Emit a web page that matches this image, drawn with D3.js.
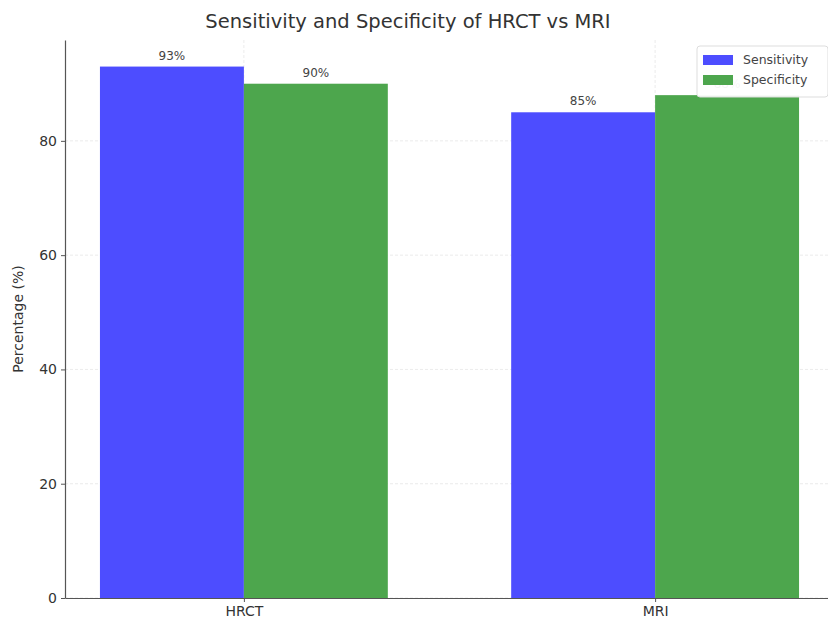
<!DOCTYPE html>
<html>
<head>
<meta charset="utf-8">
<script src="https://cdn.jsdelivr.net/npm/d3@7"></script>
<style>
  body { margin: 0; background: #fff; overflow: hidden; }
  svg { font-family: "DejaVu Sans", sans-serif; display: block; }
</style>
</head>
<body>
<div id="chart"></div>
<script>
const modalities = ["HRCT", "MRI"];
const sensitivity = [93, 85];
const specificity = [90, 88];
const yTicks = [0, 20, 40, 60, 80];

const width = 828;
const height = 623;
const margin = { top: 40, right: -6, bottom: 25, left: 65 };
const plotW = width - margin.left - margin.right;
const plotH = height - margin.top - margin.bottom;
const barW = 0.35;

const svg = d3
  .select("#chart")
  .append("svg")
  .attr("width", width)
  .attr("height", height);

const g = svg.append("g").attr("transform", `translate(${margin.left},${margin.top})`);

const x = d3.scaleLinear().domain([-0.435, 1.435]).range([0, plotW]);
const y = d3.scaleLinear().domain([0, 97.65]).range([plotH, 0]);

// grid
g.selectAll(".hgrid")
  .data(yTicks)
  .enter()
  .append("line")
  .attr("x1", 0)
  .attr("x2", plotW)
  .attr("y1", (d) => y(d))
  .attr("y2", (d) => y(d))
  .attr("stroke", "#e6e6e6")
  .attr("stroke-dasharray", "3,2")
  .attr("stroke-width", 0.8);

g.selectAll(".vgrid")
  .data(modalities)
  .enter()
  .append("line")
  .attr("x1", (d, i) => x(i))
  .attr("x2", (d, i) => x(i))
  .attr("y1", 0)
  .attr("y2", plotH)
  .attr("stroke", "#e6e6e6")
  .attr("stroke-dasharray", "3,2")
  .attr("stroke-width", 0.8);

const series = [
  { name: "Sensitivity", values: sensitivity, color: "rgb(77,77,255)", offset: -barW / 2 },
  { name: "Specificity", values: specificity, color: "rgb(77,166,77)", offset: barW / 2 }
];

series.forEach((s) => {
  g.selectAll(".bar-" + s.name)
    .data(s.values)
    .enter()
    .append("rect")
    .attr("x", (d, i) => x(i + s.offset - barW / 2))
    .attr("width", x(barW) - x(0))
    .attr("y", (d) => y(d))
    .attr("height", (d) => y(0) - y(d))
    .attr("fill", s.color);

  g.selectAll(".lbl-" + s.name)
    .data(s.values)
    .enter()
    .append("text")
    .attr("x", (d, i) => x(i + s.offset))
    .attr("y", (d) => y(d) - 7)
    .attr("text-anchor", "middle")
    .style("font-size", "12px")
    .style("fill", "#444")
    .text((d) => d + "%");
});

// axes
const yAxis = g
  .append("g")
  .call(d3.axisLeft(y).tickValues(yTicks).tickSizeInner(4).tickSizeOuter(0).tickPadding(4));
const xAxis = g
  .append("g")
  .attr("transform", `translate(0,${plotH})`)
  .call(
    d3.axisBottom(x)
      .tickValues([0, 1])
      .tickFormat((d) => modalities[d])
      .tickSizeInner(4)
      .tickSizeOuter(0)
      .tickPadding(4)
  );

[yAxis, xAxis].forEach((a) => {
  a.select(".domain").attr("stroke", "#555").attr("stroke-width", 1.2);
  a.selectAll(".tick line").attr("stroke", "#555");
  a.selectAll(".tick text").style("font-size", "14px").style("fill", "#333").style("font-family", "DejaVu Sans, sans-serif");
});

// legend
const legend = g.append("g").attr("transform", `translate(${697 - margin.left},${46 - margin.top})`);
legend
  .append("rect")
  .attr("width", 131)
  .attr("height", 51)
  .attr("rx", 3)
  .attr("fill", "rgba(255,255,255,0.95)")
  .attr("stroke", "#ddd");

series.forEach((s, i) => {
  legend
    .append("rect")
    .attr("x", 6)
    .attr("y", 9 + i * 20)
    .attr("width", 30)
    .attr("height", 10)
    .attr("fill", s.color);
  legend
    .append("text")
    .attr("x", 46)
    .attr("y", 18 + i * 20)
    .style("font-size", "12.5px")
    .style("fill", "#444")
    .text(s.name);
});

// labels
svg
  .append("text")
  .attr("transform", `translate(23,${margin.top + plotH / 2}) rotate(-90)`)
  .attr("text-anchor", "middle")
  .style("font-size", "14px")
  .style("fill", "#333")
  .text("Percentage (%)");

svg
  .append("text")
  .attr("x", 408)
  .attr("y", 28)
  .attr("text-anchor", "middle")
  .style("font-size", "19.5px")
  .style("fill", "#333")
  .text("Sensitivity and Specificity of HRCT vs MRI");
</script>
</body>
</html>
